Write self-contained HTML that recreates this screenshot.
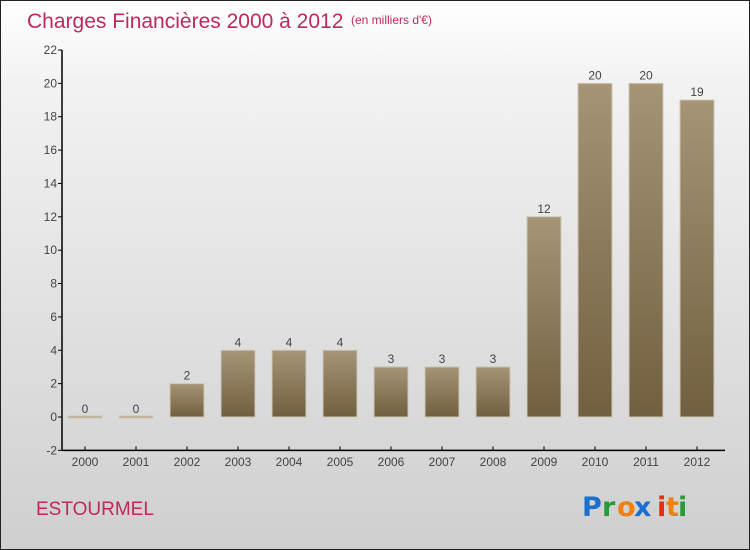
<!DOCTYPE html>
<html><head><meta charset="utf-8"><style>
body{margin:0;width:750px;height:550px;overflow:hidden;font-family:"Liberation Sans",sans-serif}
#wrap{position:absolute;left:0;top:0;width:748px;height:548px;border:1px solid #222;background:linear-gradient(#ffffff,#f2f2f2 15%,#cfcfcf)}
</style></head><body>
<div id="wrap">
<svg width="750" height="550" style="position:absolute;left:-1px;top:-1px" id="svg">
<defs><linearGradient id="bg" x1="0" y1="0" x2="0" y2="1"><stop offset="0" stop-color="#a69476"/><stop offset="1" stop-color="#715f40"/></linearGradient></defs>
<text x="27" y="28" font-size="21" fill="#c0285c">Charges Financières 2000 à 2012</text>
<text x="351" y="24" font-size="12" fill="#c0285c">(en milliers d'€)</text>
<text x="36" y="515" font-size="19" fill="#c0285c">ESTOURMEL</text>
<g font-size="27" font-family="'DejaVu Sans',sans-serif" font-weight="bold">
<text x="582" y="516" fill="#1a6fd0">P</text><text x="602" y="516" fill="#2a9a3a">r</text><text x="617" y="516" fill="#f08010">o</text><text x="634" y="516" fill="#1a6fd0">x</text><text x="657" y="516" fill="#e03010">i</text><text x="666" y="516" fill="#f08010">t</text><text x="678" y="516" fill="#2a9a3a">i</text></g>
</svg></div>
<script>
const categories=["2000","2001","2002","2003","2004","2005","2006","2007","2008","2009","2010","2011","2012"];
const values=[0,0,2,4,4,4,3,3,3,12,20,20,19];
const yTicks=[-2,0,2,4,6,8,10,12,14,16,18,20,22];
const svg=document.getElementById('svg');const NS='http://www.w3.org/2000/svg';
const y=v=>417-(v)*(367/22);
const x=i=>85+i*51;
function mk(t,a){const e=document.createElementNS(NS,t);for(const k in a)e.setAttribute(k,a[k]);svg.appendChild(e);return e;}
let ax=mk('line',{x1:62,y1:y(22),x2:62,y2:y(-2),stroke:'#000','stroke-width':1.5});


let bx=mk('line',{x1:62,y1:y(-2),x2:725,y2:y(-2),stroke:'#000','stroke-width':1.5});


yTicks.forEach(v=>{mk('line',{x1:58,x2:62,y1:y(v),y2:y(v),stroke:'#000'});
const t=mk('text',{x:57,y:y(v)+4,'font-size':12,fill:'#444','text-anchor':'end'});t.textContent=v;

});
categories.forEach((c,i)=>{mk('line',{x1:x(i),x2:x(i),y1:y(-2)-4,y2:y(-2),stroke:'#000'});
const t=mk('text',{x:x(i),y:466,'font-size':12,fill:'#444','text-anchor':'middle'});t.textContent=c;


const v=values[i];const top=y(v),h=Math.max(y(0)-top,1.5);
const r=mk('rect',{x:x(i)-17,y:v===0?y(0)-1:top,width:34,height:v===0?2:h,fill:v===0?'#b0a38e':'url(#bg)',stroke:'#cfc6b4','stroke-width':1});


const l=mk('text',{x:x(i),y:(v===0?y(0):top)-4,'font-size':12,fill:'#444','text-anchor':'middle'});l.textContent=v;

});
</script>
</body></html>
